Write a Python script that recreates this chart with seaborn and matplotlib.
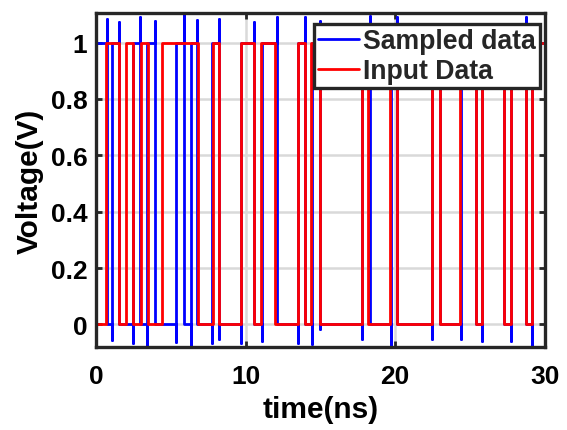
import matplotlib
matplotlib.use("Agg")
import matplotlib.pyplot as plt
import numpy as np
import pandas as pd
import seaborn as sns

# Input data: starts low, toggles at each edge time (ns)
input_start = 0.0
input_edges = [0.65, 1.55, 2.04, 2.5, 3.0, 3.5, 4.45, 6.8, 7.8, 8.25, 9.7, 10.6,
               11.05, 12.0, 13.5, 13.96, 14.4, 14.97, 17.76, 18.2, 19.66, 20.1,
               22.46, 22.97, 24.36, 25.37, 25.82, 27.27, 27.72, 28.72, 29.17]

# Sampled data: starts high, toggles at each edge with over/undershoot extremes
sampled_start = 1.0
sampled_edges = [0.72, 1.1, 1.54, 2.5, 2.95, 3.44, 3.94, 5.35, 5.86, 6.35, 6.75,
                 7.75, 8.26, 9.71, 10.6, 11.13, 12.1, 13.5, 14.0, 14.45, 14.97,
                 17.76, 18.3, 19.7, 20.15, 22.46, 22.97, 24.4, 25.37, 25.82,
                 27.27, 27.72, 28.72, 29.17]
sampled_high = [1.085, 1.0, 1.073, 1.0, 1.092, 1.0, 1.077, 1.0, 1.10, 1.0, 1.08,
                1.0, 1.082, 1.0, 1.073, 1.0, 1.092, 1.0, 1.092, 1.0, 1.078,
                1.0, 1.095, 1.0, 1.092, 1.0, 1.05, 1.0, 1.05, 1.0,
                1.05, 1.0, 1.092, 1.0]
sampled_low = [0.0, -0.056, 0.0, -0.067, 0.0, -0.073, 0.0, -0.061, 0.0, -0.073, 0.0,
               -0.067, -0.05, -0.067, 0.0, -0.059, 0.0, -0.067, 0.0, -0.07, -0.015,
               -0.05, 0.0, -0.075, 0.0, -0.05, 0.0, -0.05, 0.0, -0.06,
               0.0, -0.06, 0.0, -0.078]

t_end = 30.0
x_ticks = [0, 10, 20, 30]
y_ticks = [0, 0.2, 0.4, 0.6, 0.8, 1.0]
y_tick_labels = ["0", "0.2", "0.4", "0.6", "0.8", "1"]


def square_wave(start, edges, t_stop):
    ts, vs = [0.0], [start]
    level = start
    for t in edges:
        ts += [t, t]
        vs += [level, 1.0 - level]
        level = 1.0 - level
    ts.append(t_stop)
    vs.append(level)
    return pd.DataFrame({"t": ts, "v": vs})


def sampled_wave(start, edges, highs, lows, t_stop):
    ts, vs = [0.0], [start]
    level = start
    for t, hi, lo in zip(edges, highs, lows):
        if level > 0.5:   # falling edge: overshoot up, then down
            seq = [level, hi, lo, 0.0]
            level = 0.0
        else:             # rising edge: undershoot, then up
            seq = [level, lo, hi, 1.0]
            level = 1.0
        ts += [t] * len(seq)
        vs += seq
    ts.append(t_stop)
    vs.append(level)
    return pd.DataFrame({"t": ts, "v": vs})


df_in = square_wave(input_start, input_edges, t_end)
df_s = sampled_wave(sampled_start, sampled_edges, sampled_high, sampled_low, t_end)

sns.set_theme(style="whitegrid")
plt.rcParams["font.family"] = ["Liberation Sans", "DejaVu Sans"]
plt.rcParams["font.weight"] = "bold"

fig = plt.figure(figsize=(5.67, 4.31), dpi=100)
ax = fig.add_axes([0.169, 0.1926, 0.792, 0.775])

lw = 2.0
sns.lineplot(data=df_s, x="t", y="v", sort=False, estimator=None, ax=ax,
             color="#0000ff", linewidth=lw, label="Sampled data")
sns.lineplot(data=df_in, x="t", y="v", sort=False, estimator=None, ax=ax,
             color="#ff0000", linewidth=lw, label="Input Data")

ax.set_xlim(0, 30)
ax.set_ylim(-0.08, 1.105)
ax.set_xticks(x_ticks)
ax.set_xticklabels([str(x) for x in x_ticks])
ax.set_yticks(y_ticks)
ax.set_yticklabels(y_tick_labels)

ax.set_facecolor("white")
ax.grid(True, color="#d9d9d9", linewidth=1.8)
for sp in ax.spines.values():
    sp.set_visible(True)
    sp.set_color("#262626")
    sp.set_linewidth(2.4)

ax.tick_params(axis="both", which="both", direction="in", length=4, width=2,
               color="#262626", labelsize=19, labelcolor="black",
               top=True, right=True, left=True, bottom=True)
ax.tick_params(axis="y", pad=6)
ax.tick_params(axis="x", pad=12)
for lab in ax.get_xticklabels() + ax.get_yticklabels():
    lab.set_fontweight("bold")

ax.set_xlabel("time(ns)", fontsize=21.5, fontweight="bold", color="black", labelpad=5)
ax.set_ylabel("Voltage(V)", fontsize=21.5, fontweight="bold", color="black", labelpad=5)

leg = ax.legend(loc="upper right", bbox_to_anchor=(0.989, 0.967), fontsize=19.2,
                frameon=True, fancybox=False, framealpha=1, edgecolor="#262626",
                handlelength=1.55, handletextpad=0.15, borderpad=0.15,
                labelspacing=0.15, borderaxespad=0.0)
leg.get_frame().set_linewidth(2.4)
for txt in leg.get_texts():
    txt.set_fontweight("bold")
for line in leg.get_lines():
    line.set_linewidth(lw)

fig.savefig("out.png", dpi=100, facecolor="white")
